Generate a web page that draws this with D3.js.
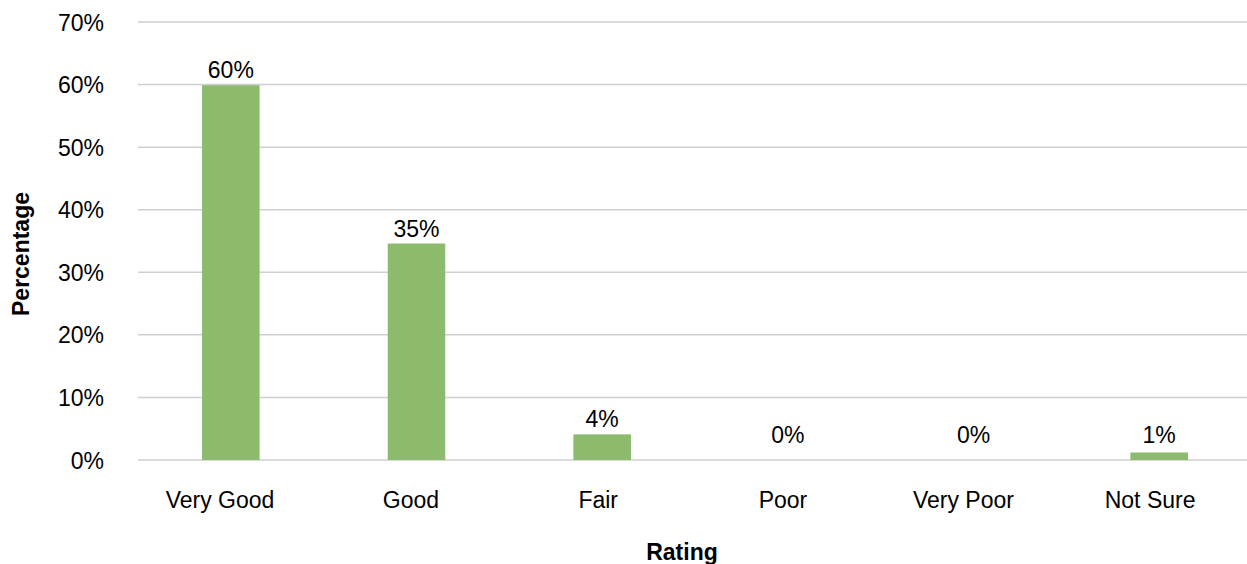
<!DOCTYPE html>
<html>
<head>
<meta charset="utf-8">
<script src="https://cdn.jsdelivr.net/npm/d3@7"></script>
<style>
  body{margin:0;background:#fff;}
  svg text{font-family:"Liberation Sans",Arial,sans-serif;fill:#000;}
</style>
</head>
<body>
<main></main>
<script>
const categories=["Very Good","Good","Fair","Poor","Very Poor","Not Sure"];
const values=[59.9,34.6,4.1,0,0,1.2];
const valueLabels=["60%","35%","4%","0%","0%","1%"];
const yTicks=[0,10,20,30,40,50,60,70];

const w=1247;
const h=564;
const plotLeft=138, plotRight=1252, plotTop=22, plotBottom=460;

const svg=d3.select("main")
            .append("svg")
            .attr("width",w)
            .attr("height",h);

const xScale=d3.scaleBand()
               .domain(categories)
               .range([plotLeft,plotRight])
               .paddingInner(0.69)
               .paddingOuter(0.345);
const yScale=d3.scaleLinear()
               .domain([0,70])
               .range([plotBottom,plotTop]);

// gridlines
svg.append("g")
   .selectAll("line")
   .data(yTicks)
   .enter()
   .append("line")
   .attr("x1",plotLeft)
   .attr("x2",w)
   .attr("y1",d=>yScale(d))
   .attr("y2",d=>yScale(d))
   .attr("stroke","#cfcfcf")
   .attr("stroke-width",1.5);

// y axis labels
const yAxis=d3.axisLeft(yScale)
              .tickValues(yTicks)
              .tickFormat(d=>d+"%")
              .tickSize(0)
              .tickPadding(0);
const yg=svg.append("g")
   .attr("transform","translate(104,0)")
   .call(yAxis);
yg.select(".domain").remove();
yg.attr("font-family",null).attr("font-size",null);
yg.selectAll("text").style("font-size","23px").attr("dy","0.35em");

// x axis labels
const xAxis=d3.axisBottom(xScale).tickSize(0).tickPadding(0);
const xg=svg.append("g")
   .attr("transform","translate(0,492)")
   .call(xAxis);
xg.select(".domain").remove();
xg.attr("font-family",null).attr("font-size",null);
xg.selectAll("text")
  .style("font-size","23px")
  .attr("dy","0.71em")
  .attr("dx",function(){ return -0.1*this.getComputedTextLength(); }); // labels sit a bit left of the bars

// bars
svg.selectAll("rect.bar")
   .data(values)
   .enter()
   .append("rect")
   .attr("class","bar")
   .attr("x",(d,i)=>xScale(categories[i]))
   .attr("y",d=>yScale(d))
   .attr("width",xScale.bandwidth())
   .attr("height",d=>plotBottom-yScale(d))
   .attr("fill","#8cbb6e");

// value labels (never lower than a small gap above the baseline)
svg.selectAll("text.val")
   .data(values)
   .enter()
   .append("text")
   .attr("class","val")
   .attr("x",(d,i)=>xScale(categories[i])+xScale.bandwidth()/2)
   .attr("y",d=>Math.min(yScale(d)-7,plotBottom-17))
   .attr("text-anchor","middle")
   .style("font-size","23px")
   .text((d,i)=>valueLabels[i]);

// axis titles
svg.append("text")
   .attr("x",682)
   .attr("y",560)
   .attr("text-anchor","middle")
   .style("font-size","23px")
   .style("font-weight","bold")
   .text("Rating");
svg.append("text")
   .attr("transform","translate(29,254) rotate(-90)")
   .attr("text-anchor","middle")
   .style("font-size","23px")
   .style("font-weight","bold")
   .text("Percentage");
</script>
</body>
</html>
